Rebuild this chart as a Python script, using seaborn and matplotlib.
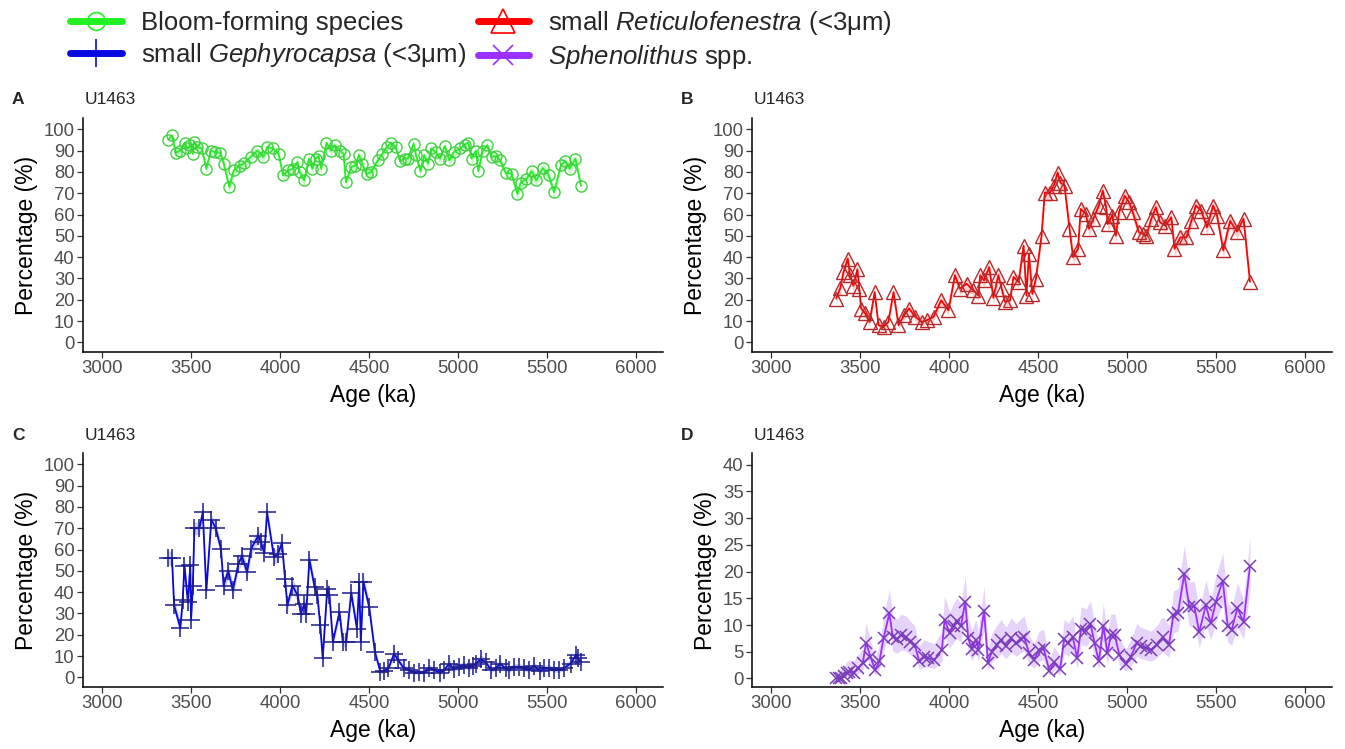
import numpy as np
import matplotlib
matplotlib.use("Agg")
import matplotlib.pyplot as plt
from matplotlib.lines import Line2D
import seaborn as sns

# ---------------------------------------------------------------------------
# Site U1463 nannofossil records: age (ka) and relative abundance (%)
# ---------------------------------------------------------------------------
bloom_age = [3372, 3392, 3415, 3439, 3464, 3479, 3497, 3510, 3515, 3535, 3560, 3586,
             3611, 3634, 3664, 3684, 3715, 3740, 3773, 3798, 3835, 3873, 3906, 3928,
             3961, 3992, 4017, 4047, 4073, 4098, 4111, 4136, 4162, 4182, 4200, 4217,
             4231, 4261, 4286, 4307, 4337, 4357, 4370, 4401, 4423, 4443, 4461, 4486,
             4512, 4550, 4575, 4601, 4624, 4649, 4675, 4700, 4718, 4751, 4764, 4789,
             4809, 4832, 4849, 4875, 4900, 4926, 4951, 4976, 5014, 5038, 5058, 5076,
             5101, 5114, 5139, 5165, 5190, 5213, 5238, 5268, 5301, 5334, 5352, 5385,
             5414, 5439, 5477, 5510, 5540, 5579, 5604, 5627, 5660, 5691]
bloom_pct = [95.1, 97.2, 89, 90, 93.7, 91, 92.5, 88.5, 94, 91.7, 91, 81.5,
             90, 89.3, 89, 83.9, 72.9, 80.7, 83, 84, 87, 90, 87, 91.7,
             91, 88.5, 78.4, 80.7, 81.5, 84.6, 80, 76, 86.2, 81.5, 86.2, 87.5,
             81.5, 93.7, 90, 92.5, 90, 88.5, 75.2, 82.3, 83, 88, 83.9, 79,
             80, 85.4, 88.5, 91.7, 93.7, 91.7, 85, 86.2, 86.2, 93.3, 87.8, 80.3,
             87.8, 83.9, 91, 89.3, 86.2, 92.2, 85.4, 89.3, 91, 92.8, 93.7, 86.2,
             90, 80.3, 90, 92.5, 87, 87.5, 85.4, 79.6, 79.2, 69.7, 74.9, 76.8,
             80.3, 76, 81.8, 78.4, 70.5, 83.4, 85, 81.5, 86.2, 73.4]

retic_age = [3366, 3389, 3407, 3431, 3444, 3463, 3485, 3496, 3506, 3529, 3554, 3582,
             3604, 3632, 3659, 3688, 3716, 3748, 3776, 3811, 3847, 3875, 3913, 3956,
             3997, 4033, 4061, 4099, 4137, 4165, 4175, 4197, 4226, 4249, 4277, 4296,
             4315, 4343, 4362, 4391, 4419, 4435, 4449, 4468, 4488, 4520, 4538, 4567,
             4589, 4610, 4626, 4649, 4677, 4697, 4725, 4740, 4768, 4787, 4811, 4842,
             4864, 4883, 4892, 4917, 4937, 4955, 4987, 5012, 5033, 5067, 5090, 5109,
             5137, 5162, 5185, 5216, 5249, 5267, 5300, 5334, 5362, 5387, 5417, 5450,
             5484, 5506, 5541, 5579, 5619, 5655, 5691]
retic_pct = [20.6, 25.5, 33, 39.3, 31.5, 26.6, 34.3, 25.2, 15.9, 13.6, 9.6, 23.6,
             8.1, 7.3, 9.6, 23.6, 8.1, 12.8, 15.9, 12, 9.6, 10.4, 12, 19.7,
             15.1, 31.5, 25.2, 27.5, 24.4, 22, 31.5, 29.1, 35.3, 20.9, 31.5, 25.2,
             19, 19.7, 30.7, 28.3, 45.4, 22, 41.5, 22.7, 29.9, 50.1, 70.3, 70.3,
             73.5, 79.7, 75, 73.5, 53.3, 40, 43.9, 62.6, 60.3, 53.3, 58, 64.2,
             71.2, 63.4, 55.6, 59.5, 50.1, 61, 68.8, 65.7, 61, 51.7, 50.9, 50.1,
             58, 63.4, 56.4, 54.8, 58.7, 43.9, 49.3, 49.3, 57.1, 64.2, 61.8, 54,
             64.2, 59.5, 43.2, 57, 52, 58, 28.5]

geph_age = [3372, 3393, 3405, 3440, 3453, 3463, 3482, 3496, 3500, 3510, 3519, 3547,
            3566, 3586, 3614, 3639, 3668, 3683, 3709, 3735, 3766, 3786, 3815, 3837,
            3878, 3893, 3912, 3927, 3966, 3988, 4011, 4028, 4041, 4070, 4099, 4117,
            4137, 4147, 4165, 4194, 4210, 4226, 4240, 4265, 4278, 4297, 4334, 4353,
            4372, 4400, 4432, 4445, 4454, 4469, 4501, 4533, 4564, 4586, 4609, 4641,
            4664, 4694, 4726, 4755, 4783, 4808, 4838, 4866, 4899, 4922, 4951, 4976,
            5007, 5034, 5063, 5082, 5100, 5129, 5158, 5186, 5214, 5235, 5268, 5287,
            5315, 5344, 5372, 5400, 5428, 5461, 5484, 5512, 5541, 5569, 5597, 5633,
            5662, 5675, 5691]
geph_pct = [56, 56, 33.8, 23.2, 36.1, 52.5, 35.4, 52.8, 26.8, 42.8, 70, 70,
            77.4, 40.8, 74, 70, 60.3, 43.1, 50.1, 40.8, 53.3, 56.9, 49.4, 60.3,
            66.5, 63.4, 58.4, 77.4, 56.4, 57.9, 63.1, 46.3, 33.8, 43.1, 38.5, 29.9,
            34.6, 29.9, 55.3, 42.4, 38.5, 24.4, 8.9, 41.3, 38.5, 16.7, 30.7, 16.7,
            16.7, 39.7, 22.9, 44.7, 16.7, 44.7, 33, 12, 2.6, 3.1, 4.2, 11.2,
            8.1, 4.5, 3.4, 2.3, 2.6, 2.3, 4.5, 3.4, 2.3, 3.4, 6.5, 3.9,
            5, 5.7, 4.5, 5.5, 6.5, 8.6, 7, 3.4, 4.2, 6.5, 4.2, 3.4,
            5, 5, 4.2, 3.4, 5.5, 2.9, 4.2, 4.5, 3.4, 3.4, 4.5, 6.5,
            10.4, 8.9, 7]

spheno_age = [3367, 3382, 3395, 3409, 3425, 3440, 3465, 3487, 3515, 3534, 3558, 3585,
              3609, 3632, 3665, 3684, 3709, 3731, 3759, 3783, 3807, 3833, 3861, 3884,
              3918, 3960, 3975, 4003, 4027, 4043, 4067, 4091, 4108, 4127, 4152, 4165,
              4197, 4219, 4240, 4269, 4292, 4321, 4349, 4377, 4402, 4422, 4450, 4478,
              4506, 4531, 4564, 4592, 4624, 4647, 4670, 4695, 4720, 4742, 4770, 4795,
              4818, 4842, 4867, 4890, 4909, 4932, 4957, 4994, 5021, 5055, 5078, 5107,
              5135, 5169, 5201, 5236, 5261, 5287, 5322, 5350, 5378, 5406, 5443, 5471,
              5499, 5538, 5566, 5588, 5621, 5655, 5691]
spheno_pct = [0, 0, 0.1, 0.4, 1, 1.3, 1.1, 1.9, 2.8, 6.7, 4.1, 1.6,
              3.2, 7.5, 12.2, 7.8, 7.3, 8.1, 7.8, 6.9, 6.3, 3.2, 4.1, 3.8,
              3.5, 5.4, 11, 8.5, 9.9, 10.7, 9.8, 14.4, 7.5, 5.6, 7.2, 5.4,
              12.7, 2.8, 5, 6.3, 7.2, 6, 7.5, 6.6, 7.3, 7.8, 4.7, 3.5,
              5.4, 5.7, 1.4, 3.1, 1.7, 7.3, 6.6, 7.8, 3.8, 9.3, 8.9, 10.2,
              6.6, 3.2, 9.9, 4.7, 8.1, 8.1, 4.4, 2.7, 4.1, 6.6, 6, 5.7,
              5.4, 6.3, 7.7, 6.3, 11.9, 12.3, 19.6, 13.4, 13.5, 8.7, 13.7, 10.3,
              14.3, 18.3, 9.9, 9.1, 13.2, 10.5, 21]

# specimens counted per sample (used for the 95 % binomial band)
n_counted = {"bloom": 1000, "retic": 900, "geph": 900, "spheno": 260}

labels = {
    "bloom": "Bloom-forming species",
    "geph": r"small $\mathit{Gephyrocapsa}$ (<3μm)",
    "retic": r"small $\mathit{Reticulofenestra}$ (<3μm)",
    "spheno": r"$\mathit{Sphenolithus}$ spp.",
}
age_ticks = [3000, 3500, 4000, 4500, 5000, 5500, 6000]

# ---------------------------------------------------------------------------
sns.set_theme(style="ticks")
plt.rcParams["font.family"] = ["Liberation Sans", "DejaVu Sans"]
plt.rcParams["mathtext.fontset"] = "custom"
plt.rcParams["mathtext.rm"] = "Liberation Sans"
plt.rcParams["mathtext.it"] = "Liberation Sans:italic"

W, H = 1345, 749
fig = plt.figure(figsize=(W / 100, H / 100), dpi=100)


def box(left, top, right, bottom):
    return [left / W, 1 - bottom / H, (right - left) / W, (bottom - top) / H]


def wilson(p, n, z=1.96):
    p = np.asarray(p) / 100.0
    denom = 1 + z ** 2 / n
    centre = (p + z ** 2 / (2 * n)) / denom
    half = z * np.sqrt(p * (1 - p) / n + z ** 2 / (4 * n ** 2)) / denom
    return 100 * (centre - half), 100 * (centre + half)


styles = {
    "bloom": dict(line="#22F022", edge="#40D040", band="#8AF58A", marker="o", ms=8, mew=1.0),
    "retic": dict(line="#FF0000", edge="#B52A2A", band="#FF9A9A", marker="^", ms=10.5, mew=1.0),
    "geph": dict(line="#0808E0", edge="#1C1C8C", band="#9A9AF2", marker="+", ms=13, mew=1.1),
    "spheno": dict(line="#9B30FF", edge="#7A3DB8", band="#CFA8F7", marker="x", ms=9, mew=1.1),
}

panels = [
    ("A", "bloom", bloom_age, bloom_pct, (83, 118, 663, 352), (-4.5, 105.3), range(0, 101, 10)),
    ("B", "retic", retic_age, retic_pct, (752, 118, 1332, 352), (-4.5, 105.3), range(0, 101, 10)),
    ("C", "geph", geph_age, geph_pct, (83, 453, 663, 687), (-4.5, 105.3), range(0, 101, 10)),
    ("D", "spheno", spheno_age, spheno_pct, (752, 453, 1332, 687), (-1.6, 42.2), range(0, 41, 5)),
]

for letter, key, age, pct, (l, t, r, b), ylim, yticks in panels:
    ax = fig.add_axes(box(l, t, r, b))
    st = styles[key]
    lo, hi = wilson(pct, n_counted[key])
    ax.fill_between(age, lo, hi, color=st["band"], alpha=0.5, lw=0)
    sns.lineplot(x=age, y=pct, ax=ax, sort=False, errorbar=None, color=st["line"],
                 lw=1.3, marker=st["marker"], markersize=st["ms"],
                 markerfacecolor="none", markeredgecolor=st["edge"],
                 markeredgewidth=st["mew"], legend=False)
    ax.set_xlim(2893, 6152)
    ax.set_ylim(*ylim)
    ax.set_xticks(age_ticks)
    ax.set_yticks(list(yticks))
    ax.set_xlabel("Age (ka)", fontsize=16.5, color="black", labelpad=5)
    ax.set_ylabel("Percentage (%)", fontsize=16.5, color="black", labelpad=4)
    ax.tick_params(axis="both", labelsize=13.3, labelcolor="#4D4D4D",
                   color="#333333", length=4, width=0.9, pad=2)
    for side in ("top", "right"):
        ax.spines[side].set_visible(False)
    for side in ("left", "bottom"):
        ax.spines[side].set_color("black")
        ax.spines[side].set_linewidth(1.1)
    letter_x = 12 if letter in ("A", "C") else 681
    fig.text(letter_x / W, 1 - (t - 18) / H, letter, fontsize=12.5,
             fontweight="bold", va="center")
    fig.text((l + 2) / W, 1 - (t - 18) / H, "U1463", fontsize=12.5, va="center")

# legend: two columns across the top
order = ["bloom", "geph", "retic", "spheno"]
handles = []
for key in order:
    st = styles[key]
    handles.append(Line2D([], [], color=st["line"], lw=5, marker=st["marker"],
                          markersize=st["ms"] * 1.6, markerfacecolor="none",
                          markeredgecolor=st["line"], markeredgewidth=1.2))
fig.legend(handles, [labels[k] for k in order], loc="upper left",
           bbox_to_anchor=(60 / W, 1.002), ncol=2, frameon=False, fontsize=18.5,
           handlelength=2.0, handletextpad=0.75, columnspacing=0.45, labelspacing=0.25,
           borderaxespad=0.0)

fig.savefig("out.png", dpi=100)
